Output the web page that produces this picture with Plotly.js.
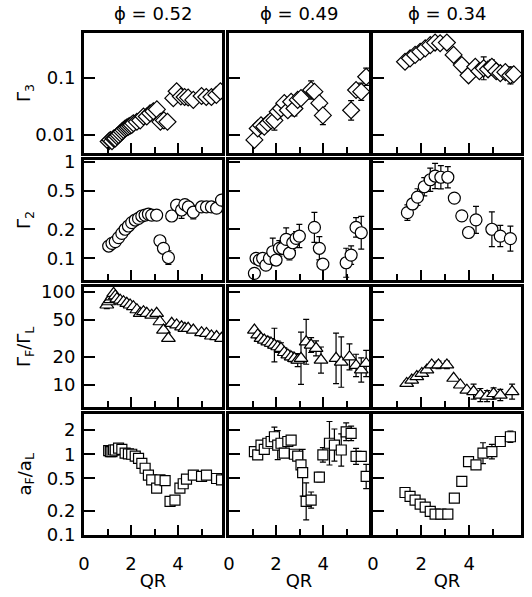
<!DOCTYPE html>
<html>
<head>
<meta charset="utf-8">
<script src="https://cdn.plot.ly/plotly-3.0.1.min.js"></script>
<style>html,body{margin:0;padding:0;background:#fff}#chart{width:532px;height:597px}</style>
</head>
<body>
<div id="chart"></div>
<script>
// ---------- data ----------
var phiLabels = ["ϕ = 0.52", "ϕ = 0.49", "ϕ = 0.34"];
var rowLabels = ["Γ<sub>3</sub>", "Γ<sub>2</sub>", "Γ<sub>F</sub>/Γ<sub>L</sub>", "a<sub>F</sub>/a<sub>L</sub>"];
var xTitle = "QR";
var xTickVals = [0, 2, 4];
var xMinorVals = [1, 3, 5];

var yTickVals = [[0.01, 0.1], [0.1, 0.2, 0.5, 1], [10, 20, 50, 100], [0.1, 0.2, 0.5, 1, 2]];
var yTickText = [["0.01", "0.1"], ["0.1", "0.2", "0.5", "1"], ["10", "20", "50", "100"], ["0.1", "0.2", "0.5", "1", "2"]];

// Gamma3
var g3_052_x = [1.05,1.12,1.19,1.26,1.33,1.4,1.47,1.54,1.61,1.68,1.75,1.82,1.89,1.96,2.03,2.1,2.25,2.39,2.53,2.67,2.81,2.95,3.1,3.25,3.4,3.55,3.8,3.94,4.12,4.28,4.43,4.65,5.0,5.2,5.42,5.63,5.8];
var g3_052_y = [0.0077,0.0082,0.0078,0.0087,0.0087,0.0095,0.010,0.0107,0.0115,0.0122,0.013,0.0135,0.014,0.0145,0.015,0.016,0.017,0.018,0.021,0.021,0.024,0.026,0.028,0.017,0.018,0.017,0.044,0.058,0.047,0.046,0.045,0.041,0.048,0.046,0.046,0.050,0.058];
var g3_052_e = [];
var g3_049_x = [1.08,1.22,1.36,1.5,1.65,1.79,1.93,2.07,2.21,2.35,2.5,2.64,2.78,2.92,3.06,3.49,3.63,3.84,3.99,5.19,5.4,5.62,5.83];
var g3_049_y = [0.0082,0.013,0.0148,0.014,0.016,0.018,0.018,0.0255,0.029,0.036,0.027,0.038,0.029,0.041,0.044,0.061,0.057,0.036,0.022,0.027,0.061,0.057,0.104];
var g3_049_e = [0,0,0,0,0,0,0.17,0,0,0,0,0,0.13,0,0,0.16,0,0,0.16,0.17,0.1,0.15,0.15];
var g3_034_x = [1.33,1.54,1.75,1.96,2.17,2.38,2.58,2.79,3.07,3.35,3.69,3.97,4.25,4.42,4.6,4.78,4.94,5.12,5.29,5.5,5.71,5.85];
var g3_034_y = [0.19,0.217,0.25,0.284,0.325,0.37,0.41,0.40,0.41,0.25,0.166,0.11,0.155,0.13,0.146,0.14,0.155,0.13,0.12,0.125,0.11,0.115];
var g3_034_e = [0,0,0,0,0,0,0,0,0,0,0,0,0,0,0.2,0,0.12,0,0.1,0,0.15,0];

// Gamma2
var g2_052_x = [1.05,1.19,1.33,1.47,1.61,1.75,1.89,2.03,2.18,2.32,2.46,2.6,2.74,2.88,3.09,3.23,3.38,3.59,3.73,3.94,4.15,4.29,4.44,4.65,5.0,5.21,5.42,5.64,5.85];
var g2_052_y = [0.134,0.143,0.149,0.164,0.181,0.2,0.216,0.234,0.249,0.259,0.274,0.28,0.287,0.28,0.28,0.152,0.127,0.102,0.274,0.355,0.316,0.36,0.34,0.30,0.34,0.34,0.34,0.33,0.40];
var g2_052_e = [0.03,0,0,0,0,0,0,0,0,0,0,0,0,0,0,0,0,0.07,0.05,0.05,0.086,0.04,0,0.07,0,0,0,0,0];
var g2_049_x = [1.08,1.15,1.29,1.43,1.57,1.72,1.86,2.0,2.14,2.28,2.43,2.57,2.71,2.85,2.99,3.63,3.84,3.99,4.98,5.19,5.4,5.62];
var g2_049_y = [0.07,0.1,0.096,0.1,0.085,0.1,0.117,0.096,0.127,0.127,0.157,0.113,0.145,0.161,0.17,0.209,0.127,0.087,0.09,0.108,0.209,0.184];
var g2_049_e = [0,0.03,0.04,0.03,0.05,0.05,0.14,0.05,0.08,0.06,0.12,0.07,0.08,0.07,0.12,0.155,0.12,0,0.15,0.095,0.1,0.17];
var g2_034_x = [1.43,1.64,1.85,2.13,2.38,2.58,2.82,3.11,3.38,3.69,3.97,4.28,4.94,5.29,5.71];
var g2_034_y = [0.297,0.365,0.43,0.55,0.65,0.71,0.69,0.69,0.42,0.275,0.185,0.25,0.2,0.17,0.16];
var g2_034_e = [0.08,0.05,0.086,0.095,0.12,0.13,0.12,0.11,0.03,0.03,0.03,0.14,0.18,0.11,0.13];

// Gamma_F / Gamma_L
var gr_052_x = [0.97,1.05,1.12,1.19,1.26,1.33,1.4,1.54,1.68,1.82,1.96,2.1,2.25,2.39,2.53,2.67,2.88,3.09,3.23,3.38,3.59,3.73,3.94,4.15,4.29,4.43,4.65,5.0,5.21,5.42,5.64,5.85];
var gr_052_y = [72,78,82,88,96,90,84,81,78,75,72,69,64,58.6,61,58.6,56,58.6,47.6,38.8,31.6,45.8,44,42,40.5,40.5,38.8,36.4,35.7,33.5,33,31.6];
var gr_052_e = [0.04,0.04,0.03,0.03];
var gr_049_x = [1.08,1.22,1.36,1.5,1.65,1.79,1.93,2.07,2.21,2.35,2.5,2.64,2.78,2.92,3.06,3.28,3.49,3.7,3.91,4.55,4.77,5.12,5.4,5.62,5.83];
var gr_049_y = [38.8,34.4,31.6,30.3,29,28,26.8,25.7,24.7,22.3,21,20,19.3,18.5,19.3,29,26.8,24.7,18.5,19.3,17.6,20,16.2,14.5,17];
var gr_049_e = [0,0.04,0.04,0.04,0.05,0.05,0.18,0.06,0.06,0.05,0.05,0.05,0.05,0.07,0.28,0.24,0.08,0.08,0.14,0.27,0.27,0.14,0.12,0.13,0.14];
var gr_034_x = [1.4,1.61,1.82,2.03,2.24,2.44,2.72,3.07,3.35,3.63,3.9,4.18,4.46,4.74,5.01,5.29,5.78];
var gr_034_y = [10.4,11.3,12.3,13.3,14.5,16.4,16.4,16.4,11.8,10,8.8,8.5,7.8,7.6,8.1,7.8,8.5];
var gr_034_e = [0.03,0.03,0.03,0.03,0.03,0.03,0.04,0.04,0,0,0,0.08,0.07,0.06,0.06,0.06,0.08];

// a_F / a_L
var ar_052_x = [1.05,1.12,1.19,1.26,1.33,1.47,1.61,1.75,1.89,2.03,2.18,2.32,2.46,2.6,2.74,2.88,3.09,3.23,3.45,3.66,3.87,4.08,4.22,4.36,4.65,5.0,5.21,5.64,5.85];
var ar_052_y = [1.11,1.08,1.08,1.13,1.13,1.19,1.15,1.03,1.01,1.0,0.95,0.89,0.77,0.67,0.55,0.48,0.38,0.48,0.47,0.26,0.27,0.38,0.43,0.49,0.55,0.53,0.55,0.50,0.48];
var ar_052_e = [];
var ar_049_x = [1.08,1.22,1.36,1.5,1.65,1.79,1.93,2.07,2.21,2.35,2.5,2.64,2.78,2.92,3.06,3.13,3.28,3.49,3.84,3.99,4.27,4.48,4.77,4.98,5.19,5.4,5.62,5.83];
var ar_049_y = [1.08,0.98,1.3,1.15,1.37,1.44,1.65,1.3,1.37,1.03,1.44,1.5,1.0,0.95,0.74,0.59,0.26,0.27,0.52,0.98,1.37,1.3,1.13,1.9,1.82,0.94,0.94,0.53];
var ar_049_e = [0,0,0,0,0.05,0.05,0.12,0.18,0.05,0,0,0,0,0,0.05,0.29,0.23,0.1,0.06,0.09,0.27,0.2,0.2,0.11,0.09,0.1,0.05,0.15];
var ar_034_x = [1.33,1.54,1.75,1.96,2.17,2.38,2.58,2.82,3.11,3.38,3.69,3.97,4.28,4.57,4.94,5.29,5.71];
var ar_034_y = [0.335,0.30,0.27,0.24,0.22,0.195,0.18,0.18,0.18,0.285,0.46,0.81,0.74,1.03,1.08,1.44,1.65];
var ar_034_e = [0,0,0,0,0,0,0,0,0,0,0,0,0.04,0.13,0.09,0.05,0.07];

// ---------- layout geometry ----------
var W = 532, H = 597;
var colPx = [[84, 222], [229, 369], [373, 521]];
var rowPx = [[33, 153], [160, 280], [287, 407], [414, 535]];
var xRanges = [[0, 5.87], [0, 5.95], [0, 6.15]];
var yRanges = [[-2.314, -0.22], [-1.224, 0.017], [0.764, 2.05], [-1.003, 0.5]];
var symbols = ["diamond", "circle", "triangle-up", "square"];
var sizes = [13, 12, 12, 10];

var panels = [
  [[g3_052_x, g3_052_y, g3_052_e], [g3_049_x, g3_049_y, g3_049_e], [g3_034_x, g3_034_y, g3_034_e]],
  [[g2_052_x, g2_052_y, g2_052_e], [g2_049_x, g2_049_y, g2_049_e], [g2_034_x, g2_034_y, g2_034_e]],
  [[gr_052_x, gr_052_y, gr_052_e], [gr_049_x, gr_049_y, gr_049_e], [gr_034_x, gr_034_y, gr_034_e]],
  [[ar_052_x, ar_052_y, ar_052_e], [ar_049_x, ar_049_y, ar_049_e], [ar_034_x, ar_034_y, ar_034_e]]
];

var FONT = "DejaVu Sans, Liberation Sans, Arial, sans-serif";
var FS = 18;
var traces = [];
var layout = {
  width: W, height: H,
  margin: {l: 0, r: 0, t: 0, b: 0},
  paper_bgcolor: "#fff", plot_bgcolor: "#fff",
  showlegend: false,
  font: {family: FONT, size: FS, color: "#000"},
  annotations: []
};

for (var r = 0; r < 4; r++) {
  for (var c = 0; c < 3; c++) {
    var k = r * 3 + c + 1;
    var xn = "x" + (k === 1 ? "" : k), yn = "y" + (k === 1 ? "" : k);
    var d = panels[r][c];
    var ys = d[1], es = d[2];
    var plus = [], minus = [];
    for (var i = 0; i < ys.length; i++) {
      var e = es[i] || 0;
      plus.push(ys[i] * (Math.pow(10, e) - 1));
      minus.push(ys[i] * (1 - Math.pow(10, -e)));
    }
    traces.push({
      type: "scatter", mode: "markers", x: d[0], y: ys, xaxis: xn, yaxis: yn,
      marker: {symbol: symbols[r], size: sizes[r], color: "#fff", line: {color: "#000", width: 1.2}},
      error_y: {type: "data", symmetric: false, array: plus, arrayminus: minus, color: "#000", thickness: 1.2, width: 3},
      hoverinfo: "skip"
    });
    var xa = {
      domain: [colPx[c][0] / W, colPx[c][1] / W], range: xRanges[c], anchor: yn,
      showline: true, mirror: true, linewidth: 3, linecolor: "#000",
      showgrid: false, zeroline: false,
      ticks: "inside", tickmode: "array", tickvals: xTickVals, ticklen: 10, tickwidth: 2, tickcolor: "#000",
      minor: {ticks: "inside", tickmode: "array", tickvals: xMinorVals, ticklen: 6, tickwidth: 2, tickcolor: "#000", showgrid: false},
      showticklabels: r === 3, ticklabelstandoff: 10,
      tickfont: {family: FONT, size: FS, color: "#000"}
    };
    if (r === 3) xa.title = {text: xTitle, font: {family: FONT, size: FS, color: "#000"}, standoff: 2};
    var ya = {
      type: "log", domain: [1 - rowPx[r][1] / H, 1 - rowPx[r][0] / H], range: yRanges[r], anchor: xn,
      showline: true, mirror: true, linewidth: 3, linecolor: "#000",
      showgrid: false, zeroline: false,
      ticks: "inside", tickmode: "array", tickvals: yTickVals[r], ticktext: yTickText[r], ticklen: 11, tickwidth: 2, tickcolor: "#000",
      showticklabels: c === 0, ticklabelstandoff: 2,
      tickfont: {family: FONT, size: FS, color: "#000"}
    };
    layout["xaxis" + (k === 1 ? "" : k)] = xa;
    layout["yaxis" + (k === 1 ? "" : k)] = ya;
  }
}

for (var c2 = 0; c2 < 3; c2++) {
  layout.annotations.push({
    text: phiLabels[c2], xref: "paper", yref: "paper",
    x: (colPx[c2][0] + colPx[c2][1]) / 2 / W, y: 1 - 14 / H,
    xanchor: "center", yanchor: "middle", showarrow: false,
    font: {family: FONT, size: FS, color: "#000"}
  });
}
for (var r2 = 0; r2 < 4; r2++) {
  layout.annotations.push({
    text: rowLabels[r2], xref: "paper", yref: "paper",
    x: 25 / W, y: 1 - (rowPx[r2][0] + rowPx[r2][1]) / 2 / H,
    xanchor: "center", yanchor: "middle", textangle: -90, showarrow: false,
    font: {family: FONT, size: FS, color: "#000"}
  });
}

Plotly.newPlot("chart", traces, layout, {displayModeBar: false, staticPlot: true});
</script>
</body>
</html>
